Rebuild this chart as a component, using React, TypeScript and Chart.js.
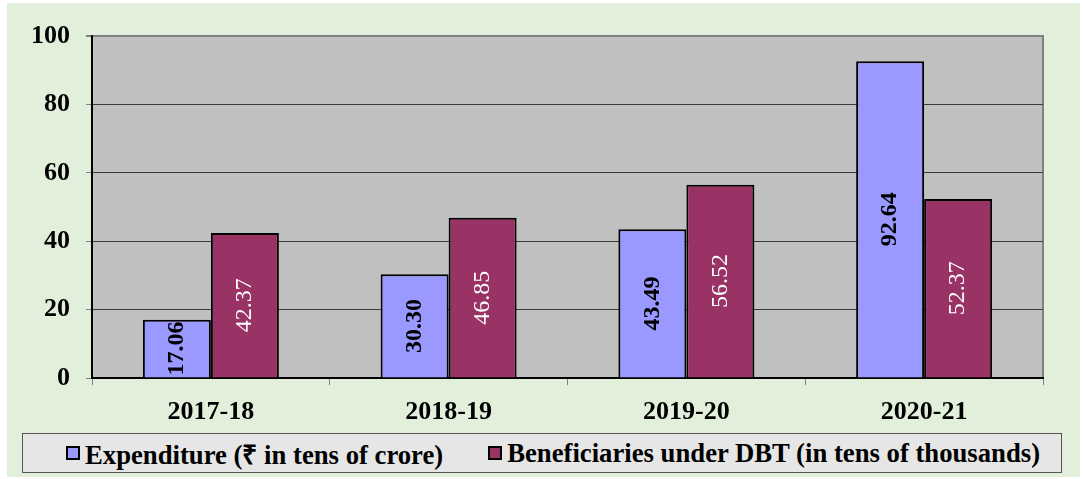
import React, { useEffect, useRef } from "react";
import { Chart, registerables } from "chart.js";

Chart.register(...registerables);

const categories = ["2017-18", "2018-19", "2019-20", "2020-21"];
const expenditure = [17.06, 30.3, 43.49, 92.64];
const beneficiaries = [42.37, 46.85, 56.52, 52.37];
const seriesNames = [
  "Expenditure (₹ in tens of crore)",
  "Beneficiaries under DBT (in tens of thousands)",
];
const seriesColors = ["#9999FF", "#993366"];
const yMin = 0;
const yMax = 100;
const yStep = 20;

const FAMILY = '"Liberation Serif"';

const plotBg = {
  id: "plotBg",
  beforeDraw(chart: any) {
    const { ctx, chartArea } = chart;
    const { left, top, right, bottom } = chartArea;
    ctx.save();
    ctx.fillStyle = "#C0C0C0";
    ctx.fillRect(left, top, right - left, bottom - top);
    ctx.strokeStyle = "#808080";
    ctx.lineWidth = 2;
    ctx.beginPath();
    ctx.moveTo(left, top);
    ctx.lineTo(right, top);
    ctx.lineTo(right, bottom);
    ctx.stroke();
    ctx.restore();
  },
};

const barLabels = {
  id: "barLabels",
  afterDatasetsDraw(chart: any) {
    const { ctx } = chart;
    chart.data.datasets.forEach((ds: any, di: number) => {
      const meta = chart.getDatasetMeta(di);
      meta.data.forEach((el: any, i: number) => {
        const { x, y, base } = el.getProps(["x", "y", "base"], true);
        const cy = (y + base) / 2;
        ctx.save();
        ctx.translate(x, cy);
        ctx.rotate(-Math.PI / 2);
        ctx.font = (di === 0 ? "bold " : "") + "24px " + FAMILY;
        ctx.fillStyle = di === 0 ? "#000000" : "#FFFFFF";
        ctx.textAlign = "center";
        ctx.textBaseline = "middle";
        ctx.fillText(Number(ds.data[i]).toFixed(2), 0, 0);
        ctx.restore();
      });
    });
  },
};

export default function App() {
  const canvasRef = useRef<HTMLCanvasElement | null>(null);

  useEffect(() => {
    if (!canvasRef.current) return;
    const chart = new Chart(canvasRef.current, {
      type: "bar",
      data: {
        labels: categories,
        datasets: [
          {
            label: seriesNames[0],
            data: expenditure,
            backgroundColor: seriesColors[0],
            borderColor: "#000000",
            borderWidth: 2,
            categoryPercentage: 0.572,
            barPercentage: 1,
          },
          {
            label: seriesNames[1],
            data: beneficiaries,
            backgroundColor: seriesColors[1],
            borderColor: "#000000",
            borderWidth: 2,
            categoryPercentage: 0.572,
            barPercentage: 1,
          },
        ],
      },
      options: {
        animation: false,
        responsive: true,
        maintainAspectRatio: false,
        layout: { padding: { top: 33, right: 37, left: 0, bottom: 0 } },
        plugins: {
          legend: { display: false },
          tooltip: { enabled: false },
        },
        scales: {
          x: {
            grid: {
              drawOnChartArea: false,
              drawTicks: true,
              tickLength: 7,
              color: "#808080",
              offset: true,
            },
            border: { color: "#000000", width: 2 },
            ticks: {
              color: "#000000",
              font: { family: FAMILY, size: 26, weight: "bold" },
              padding: 12,
            },
            afterFit(s: any) {
              s.height = 52;
            },
          },
          y: {
            min: yMin,
            max: yMax,
            ticks: {
              stepSize: yStep,
              color: "#000000",
              font: { family: FAMILY, size: 26, weight: "bold" },
              padding: 16,
            },
            grid: {
              color: (c: any) => (c.tick && c.tick.value === yMax ? "#808080" : "#3A3A3A"),
              lineWidth: (c: any) => (c.tick && c.tick.value === yMax ? 2 : 1),
              tickLength: 6,
              tickColor: "#808080",
              drawTicks: true,
            },
            border: { color: "#000000", width: 2 },
            afterFit(s: any) {
              s.width = 85;
            },
          },
        },
      },
      plugins: [plotBg, barLabels],
    });
    return () => chart.destroy();
  }, []);

  const legendBox = (color: string) => (
    <span
      style={{
        display: "inline-block",
        width: 10,
        height: 10,
        border: "2px solid #000",
        background: color,
        marginRight: 5,
        boxSizing: "content-box",
      }}
    />
  );

  return (
    <div
      style={{
        position: "absolute",
        left: 7,
        top: 3,
        width: 1073,
        height: 474,
        background: "#E2EFDA",
      }}
    >
      <div style={{ position: "absolute", left: 0, top: 0, width: 1073, height: 427 }}>
        <canvas ref={canvasRef} />
      </div>
      <div
        style={{
          position: "absolute",
          left: 15,
          top: 430,
          width: 1040,
          height: 40,
          boxSizing: "border-box",
          background: "#E6E6E6",
          border: "1.5px solid #555555",
          display: "flex",
          alignItems: "center",
          justifyContent: "flex-start",
          gap: 45,
          paddingLeft: 43,
          fontFamily: FAMILY,
          fontWeight: "bold",
          fontSize: 26.7,
          color: "#000",
          whiteSpace: "nowrap",
        }}
      >
        <span style={{ display: "flex", alignItems: "center" }}>
          {legendBox(seriesColors[0])}
          {seriesNames[0]}
        </span>
        <span style={{ display: "flex", alignItems: "center" }}>
          {legendBox(seriesColors[1])}
          {seriesNames[1]}
        </span>
      </div>
    </div>
  );
}
